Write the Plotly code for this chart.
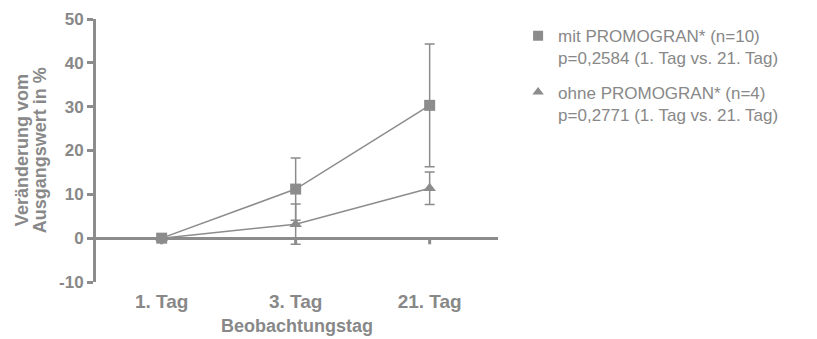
import plotly.graph_objects as go

# Beobachtungstage und Mittelwerte mit Fehlerbalken
tage = ["1. Tag", "3. Tag", "21. Tag"]
mit_werte = [0.0, 11.2, 30.3]
mit_fehler = [0.0, 7.1, 14.0]
ohne_werte = [0.0, 3.2, 11.4]
ohne_fehler = [0.0, 4.6, 3.7]

y_ticks = [-10, 0, 10, 20, 30, 40, 50]
y_ticktext = ["-10", "0", "10", "20", "30", "40", "50"]

mit_name = "mit PROMOGRAN* (n=10)<br>p=0,2584 (1. Tag vs. 21. Tag)"
ohne_name = "ohne PROMOGRAN* (n=4)<br>p=0,2771 (1. Tag vs. 21. Tag)"
y_titel = ["Veränderung vom", "Ausgangswert in %"]
x_titel = "Beobachtungstag"

grau = "#8c8c8c"
text_grau = "#888888"
schrift = "Liberation Sans, Arial, sans-serif"

fig = go.Figure()

# Kurven mit Fehlerbalken
fig.add_trace(go.Scatter(
    x=tage, y=mit_werte, mode="lines+markers", showlegend=False,
    line=dict(color=grau, width=1.5),
    marker=dict(symbol="square", size=11, color=grau),
    error_y=dict(type="data", array=mit_fehler, color=grau, thickness=1.5, width=5),
))
fig.add_trace(go.Scatter(
    x=tage, y=ohne_werte, mode="lines+markers", showlegend=False,
    line=dict(color=grau, width=1.5),
    marker=dict(symbol="triangle-up", size=11, color=grau),
    error_y=dict(type="data", array=ohne_fehler, color=grau, thickness=1.5, width=5),
))

# kleine Teilstriche der Kategorieachse unterhalb der Nulllinie
fig.add_trace(go.Scatter(
    x=tage, y=[0] * len(tage), mode="markers", showlegend=False, hoverinfo="skip",
    marker=dict(size=1, color="rgba(0,0,0,0)"),
    error_y=dict(type="data", symmetric=False, array=[0] * len(tage),
                 arrayminus=[1.4] * len(tage), color=grau, thickness=3, width=0),
))

# Legendeneinträge nur mit Symbol
fig.add_trace(go.Scatter(
    x=[None], y=[None], mode="markers", name=mit_name, legendgroup="mit",
    marker=dict(symbol="square", size=10, color=grau),
))
fig.add_trace(go.Scatter(
    x=[None], y=[None], mode="markers", name=ohne_name, legendgroup="ohne",
    marker=dict(symbol="triangle-up", size=10, color=grau),
))

# zweizeiliger Titel der y-Achse mit engem Zeilenabstand
for zeile, xpos in zip(y_titel, [-0.185, -0.140]):
    fig.add_annotation(
        text=f"<b>{zeile}</b>", xref="paper", yref="paper", x=xpos, y=0.5,
        xanchor="center", yanchor="middle", textangle=-90, showarrow=False,
        font=dict(size=18, color=text_grau, family=schrift),
    )

# Titel der x-Achse
fig.add_annotation(
    text=f"<b>{x_titel}</b>", xref="paper", yref="paper", x=0.5, y=-0.168,
    xanchor="center", yanchor="middle", showarrow=False,
    font=dict(size=18, color=text_grau, family=schrift),
)

fig.update_layout(
    width=817, height=339,
    margin=dict(l=96, r=319, t=19, b=57, autoexpand=False),
    paper_bgcolor="white", plot_bgcolor="white",
    font=dict(family=schrift, color=text_grau),
    showlegend=True,
    legend=dict(
        x=1.05, y=1.003, xanchor="left", yanchor="top",
        font=dict(size=17, color=text_grau, family=schrift),
        traceorder="grouped", tracegroupgap=9, itemwidth=30, valign="top",
        bgcolor="rgba(0,0,0,0)",
    ),
    xaxis=dict(
        type="category", range=[-0.49, 2.51], automargin=False,
        showline=False, showgrid=False, zeroline=False, ticks="",
        ticklabelstandoff=6,
        tickfont=dict(size=19, color=text_grau, family=schrift, weight="bold"),
    ),
    yaxis=dict(
        range=[-10, 50], tickvals=y_ticks, ticktext=y_ticktext, automargin=False,
        showline=True, linecolor=grau, linewidth=3,
        ticks="outside", ticklen=6, tickwidth=3, tickcolor=grau,
        showgrid=False,
        zeroline=True, zerolinecolor=grau, zerolinewidth=3,
        tickfont=dict(size=17, color=text_grau, family=schrift, weight="bold"),
    ),
)

fig.write_html("out.html")
